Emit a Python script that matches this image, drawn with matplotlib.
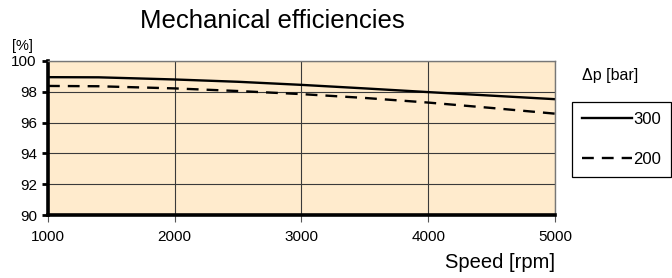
import matplotlib.pyplot as plt

plt.rcParams['font.family'] = ['Liberation Sans', 'DejaVu Sans']

speed = [1000, 1400, 2000, 2500, 3000, 3500, 4000, 4500, 5000]
eff_300 = [98.95, 98.94, 98.8, 98.65, 98.45, 98.22, 97.98, 97.75, 97.52]
eff_200 = [98.38, 98.36, 98.22, 98.05, 97.85, 97.6, 97.3, 96.95, 96.58]
labels = ['300', '200']


def main():
    fig = plt.figure(figsize=(6.72, 2.78), dpi=100)
    ax = fig.add_axes([0.0714, 0.2266, 0.7545, 0.554])
    ax.set_facecolor('#FFEBCD')

    ax.plot(speed, eff_300, color='black', linewidth=1.7, label=labels[0])
    ax.plot(speed, eff_200, color='black', linewidth=1.7,
            linestyle=(0, (5.0, 3.4)), label=labels[1])

    ax.set_xlim(1000, 5000)
    ax.set_ylim(90, 100)
    ax.set_xticks(range(1000, 5001, 1000))
    ax.set_yticks(range(90, 101, 2))
    ax.grid(True, color='#3a3a3a', linewidth=0.8)
    ax.set_axisbelow(True)

    for side in ['left', 'bottom']:
        ax.spines[side].set_linewidth(2.6)
        ax.spines[side].set_color('black')
    for side in ['top', 'right']:
        ax.spines[side].set_linewidth(1.0)
        ax.spines[side].set_color('#777777')

    ax.tick_params(axis='y', length=4, width=2, pad=4, labelsize=11)
    ax.tick_params(axis='x', length=5, width=0.8, color='#555555', pad=6,
                   labelsize=11)

    fig.text(0.405, 0.925, 'Mechanical efficiencies', fontsize=18.5,
             ha='center', va='center')
    fig.text(0.018, 0.835, '[%]', fontsize=10.5, ha='left', va='center')
    fig.text(0.826, 0.055, 'Speed [rpm]', fontsize=14.5, ha='right',
             va='center')
    fig.text(0.866, 0.73, '\u0394p [bar]', fontsize=11.5, ha='left',
             va='center')

    leg = ax.legend(loc='upper left', bbox_to_anchor=(0.851, 0.633),
                    bbox_transform=fig.transFigure, fontsize=12,
                    handlelength=3.0, handletextpad=0.1, labelspacing=1.5,
                    borderpad=0.6, borderaxespad=0, fancybox=False,
                    framealpha=1)
    leg.get_frame().set_edgecolor('black')
    leg.get_frame().set_linewidth(0.9)

    fig.savefig('out.png', dpi=100)


if __name__ == "__main__":
    main()
